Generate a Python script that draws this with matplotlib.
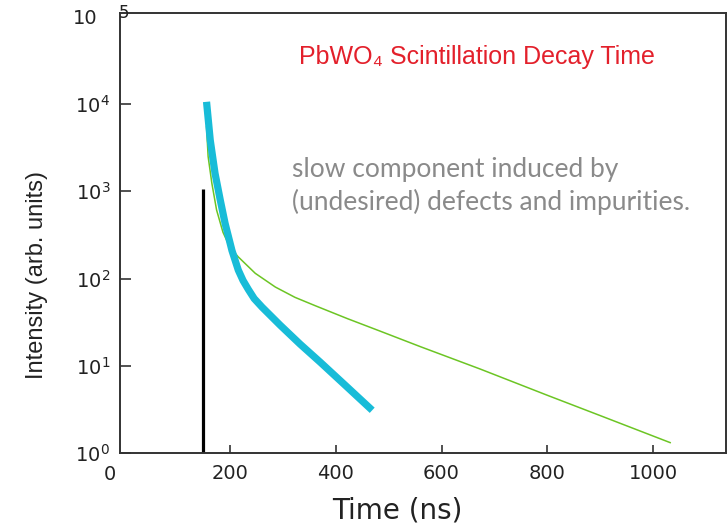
import numpy as np
import matplotlib
matplotlib.use("Agg")
import matplotlib.pyplot as plt

# --- data (time in ns, intensity in arb. units) ---
cyan_t = [156, 163, 172, 182, 191, 204, 216, 225, 235, 246, 261, 295, 333,
          371, 418, 469]
cyan_i = [1.06e4, 3.85e3, 1.61e3, 7.9e2, 4.3e2, 2.1e2, 1.25e2, 9.5e1,
          7.5e1, 5.9e1, 4.7e1, 2.93e1, 1.77e1, 1.1e1, 6.0, 3.1]

green_t = [156, 159, 166, 175, 187, 200, 216, 248, 286, 323, 361, 422, 484,
           560, 673, 800, 900, 1032]
green_i = [5.5e3, 2.5e3, 1.24e3, 6.1e2, 3.4e2, 2.3e2, 1.77e2, 1.15e2,
           8.0e1, 6.1e1, 4.9e1, 3.48e1, 2.5e1, 1.66e1, 9.2, 4.6, 2.69, 1.32]

pulse_t = [150, 150]
pulse_i = [1.0, 1.05e3]

xtick_vals = [200, 400, 600, 800, 1000]
ytick_exps = [0, 1, 2, 3, 4]

title_text = "PbWO\u2084 Scintillation Decay Time"
note_lines = ["slow component induced by", "(undesired) defects and impurities."]

# ---------------------------------------------------------------------------
plt.rcParams["font.family"] = ["Liberation Sans", "DejaVu Sans"]
plt.rcParams["mathtext.fontset"] = "dejavusans"
fig = plt.figure(figsize=(7.27, 5.30), dpi=100)
ax = fig.add_axes([0.165, 0.145, 0.834, 0.830])

ax.plot(pulse_t, pulse_i, color="black", lw=2.3, solid_capstyle="butt")
ax.plot(green_t, green_i, color="#6cc524", lw=1.1)
ax.plot(cyan_t, cyan_i, color="#18bcd8", lw=5.2, solid_capstyle="butt")

ax.set_yscale("log")
ax.set_xlim(-7.6, 1138)
ax.set_ylim(1.0, 10 ** 5.04)

tick_font = dict(family="DejaVu Sans", size=14, color="#222222")
ax.set_xticks(xtick_vals)
ax.set_xticklabels([str(v) for v in xtick_vals], **tick_font)
ax.set_yticks([10.0 ** e for e in ytick_exps])
ax.set_yticklabels([f"10$^{{{e}}}$" for e in ytick_exps], **tick_font)
ax.yaxis.set_minor_locator(matplotlib.ticker.NullLocator())
ax.tick_params(axis="both", direction="in", width=1.2, color="#333333")
ax.tick_params(axis="y", length=8, pad=7)
ax.tick_params(axis="x", length=6, pad=8)

# odd "10 5" label at the top and the bare "0" on the x axis
fig.text(73 / 727, 1 - 19 / 530, "10", ha="left", va="center", **tick_font)
fig.text(124 / 727, 1 - 13 / 530, "5", ha="center", va="center",
         family="DejaVu Sans", size=12, color="#222222")
fig.text(110 / 727, 1 - 475 / 530, "0", ha="center", va="center",
         **tick_font)

for sp in ax.spines.values():
    sp.set_color("#333333")
    sp.set_linewidth(1.4)

fig.text(37 / 727, 1 - 275 / 530, "Intensity (arb. units)", rotation=90,
         ha="center", va="center", fontsize=17, color="#222222")
fig.text(397 / 727, 1 - 518 / 530, "Time (ns)", ha="center",
         va="baseline", family="DejaVu Sans", fontsize=20, color="#222222")

fig.text(477 / 727, 1 - 57 / 530, title_text, ha="center", va="center",
         fontsize=18, color="#e3202b")

fig.text(292 / 727, 1 - 170 / 530, note_lines[0], ha="left",
         va="center", fontsize=19, color="#8a8a8a", family="Lato")
fig.text(292 / 727, 1 - 202 / 530, note_lines[1], ha="left",
         va="center", fontsize=19, color="#8a8a8a", family="Lato")

fig.savefig("out.png", dpi=100)
